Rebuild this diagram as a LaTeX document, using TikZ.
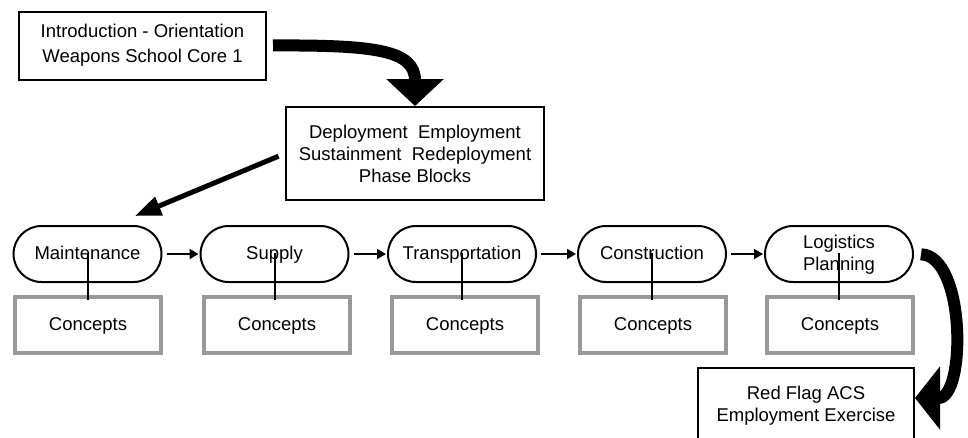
\documentclass[tikz,border=0pt]{standalone}
\usepackage{fontspec}
\setmainfont{Liberation Sans}
\usetikzlibrary{arrows.meta,shapes.misc}

\tikzset{
  txt/.style={font=\fontsize{18.5}{22}\selectfont, align=center, inner sep=0pt},
  plainbox/.style={txt, draw=black, line width=2pt},
  stage/.style={txt, draw=black, line width=2pt, rounded rectangle,
    minimum width=148pt, minimum height=56pt, text height=12pt, text depth=2pt},
  concept/.style={txt, draw=black!40, line width=4pt, rectangle,
    minimum width=146pt, minimum height=56pt, text height=12pt, text depth=2pt},
  link/.style={line width=2pt},
  flow/.style={line width=2pt, -{Triangle[length=9pt,width=10pt]},
    shorten <=4pt, shorten >=1pt},
  bigflow/.style={line width=12pt},
}

\begin{document}
\begin{tikzpicture}[x=1pt,y=-1pt]
  \useasboundingbox (0,0) rectangle (968,437);
  \fill[white] (0,0) rectangle (968,437);
  \clip (0,0) rectangle (968,437);

  % course blocks
  \node[plainbox, minimum width=247pt, minimum height=68pt,
        font=\fontsize{18.5}{25}\selectfont] (intro) at (142.5,45.5)
        {Introduction - Orientation\\Weapons School Core 1};
  \node[plainbox, minimum width=258pt, minimum height=93pt] (phase) at (415,153.5)
        {Deployment\ \ Employment\\Sustainment\ \ Redeployment\\Phase Blocks};
  \node[plainbox, minimum width=216pt, minimum height=76pt] (redflag) at (806,406)
        {Red Flag ACS\\Employment Exercise};

  % logistics disciplines
  \node[stage] (s1) at (87.5,254) {Maintenance};
  \node[stage] (s2) at (274.5,254) {Supply};
  \node[stage] (s3) at (462,254) {Transportation};
  \node[stage] (s4) at (652,254) {Construction};
  \node[stage, text height=34pt] (s5) at (839,254) {Logistics\\Planning};

  \node[concept] (c1) at (88,325) {Concepts};
  \node[concept] (c2) at (277,325) {Concepts};
  \node[concept] (c3) at (465,325) {Concepts};
  \node[concept] (c4) at (653,325) {Concepts};
  \node[concept] (c5) at (840,325) {Concepts};

  % each discipline tied to its concepts
  \foreach \i in {1,...,5}
    \draw[link, shorten <=-1pt, shorten >=-5pt] (s\i.center) -- (s\i.center |- c\i.north);

  % sequence of disciplines
  \draw[flow] (s1.east) -- (s2.west);
  \draw[flow] (s2.east) -- (s3.west);
  \draw[flow] (s3.east) -- (s4.west);
  \draw[flow] (s4.east) -- (s5.west);

  % curriculum flow
  \draw[bigflow, -{Triangle[length=27pt,width=56pt]}, shorten <=6pt]
    (intro.east) .. controls (375,45) and (415,50) .. (phase.north);

  \coordinate (mtip) at (135,216);
  \draw[line width=5pt, -{Triangle[length=26pt,width=19pt]}, shorten <=7pt]
    (phase.west) -- (mtip);

  \draw[bigflow, -{Triangle[length=25pt,width=62pt]}, shorten <=7pt]
    (s5.east) .. controls (966,256) and (966,398) .. ([yshift=8pt]redflag.east);
\end{tikzpicture}
\end{document}
